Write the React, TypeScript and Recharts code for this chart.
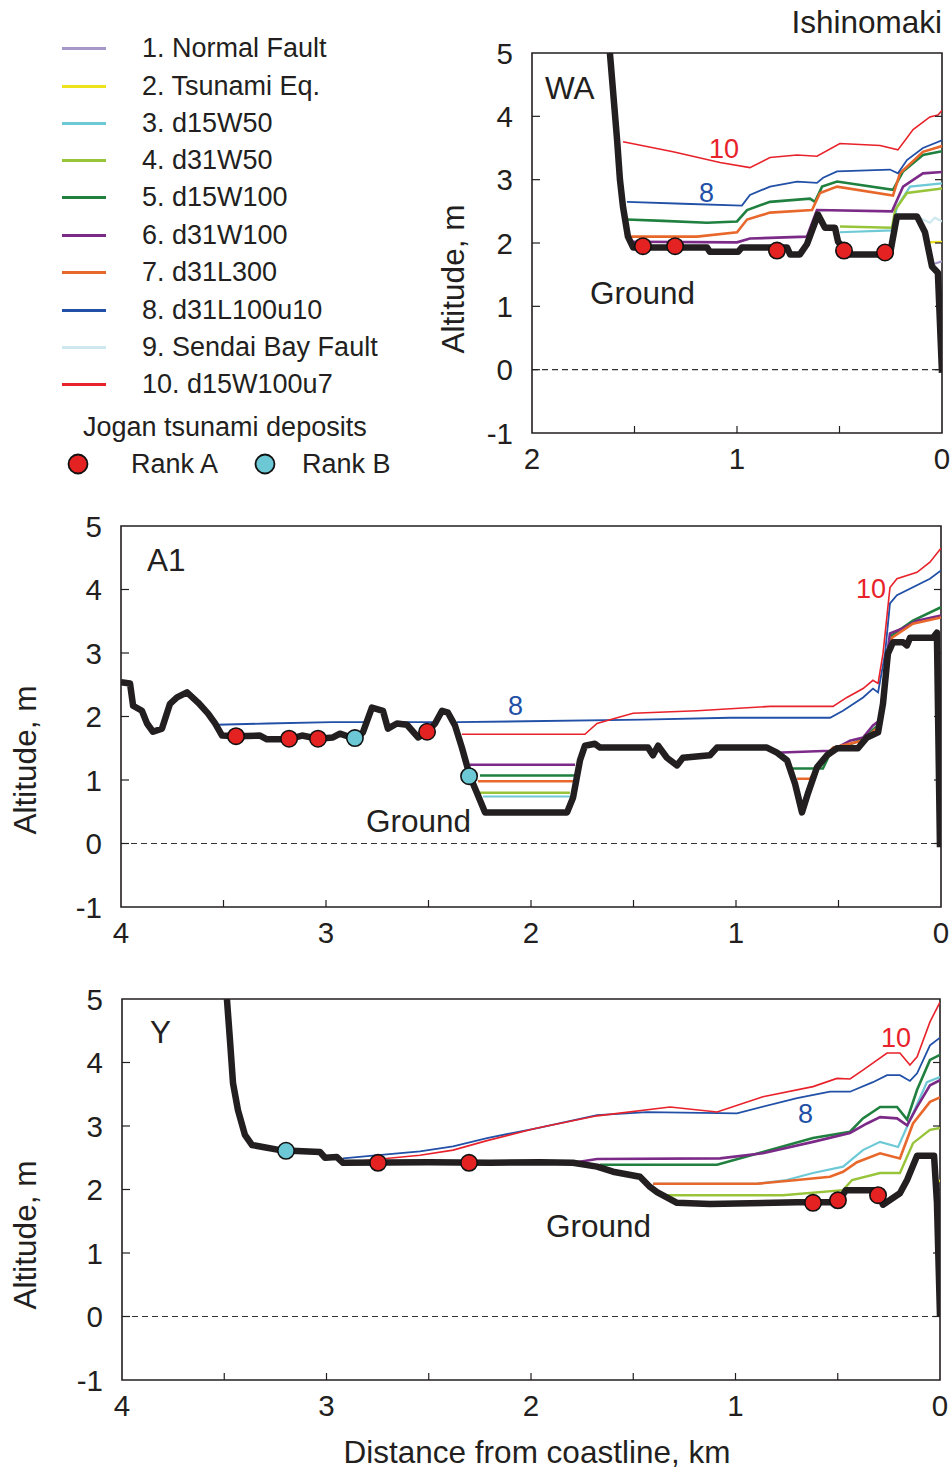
import React from 'react';
import { ComposedChart, Line, Scatter, XAxis, YAxis, ReferenceLine, ReferenceArea } from 'recharts';

type P = [number, number | null];

const FONT = '"Liberation Sans", Arial, Helvetica, sans-serif';
const INK = '#231f20';

// ---------- legend ----------
const seriesNames = [
  '1. Normal Fault', '2. Tsunami Eq.', '3. d15W50', '4. d31W50', '5. d15W100',
  '6. d31W100', '7. d31L300', '8. d31L100u10', '9. Sendai Bay Fault', '10. d15W100u7',
];
const seriesColors = [
  '#a597c8', '#ede31c', '#6dc9d6', '#98c43a', '#20803f',
  '#7b2a88', '#e8682c', '#2150a6', '#cde8ee', '#e8222a',
];
const seriesWidths = [2.2, 2.2, 2.2, 2.4, 2.6, 2.6, 2.6, 1.8, 2.2, 1.6];
const legendRowsY = [48, 86, 123, 160, 197, 235, 272, 310, 347, 384];
const RANK_A = '#e52222';
const RANK_B = '#6cc8d4';

// ---------- WA (Ishinomaki) ----------
const waGround: P[] = [
  [1.62, 5.0], [1.585, 3.63], [1.571, 3.0], [1.556, 2.57], [1.532, 2.1], [1.507, 1.93],
  [1.146, 1.93], [1.132, 1.86], [0.995, 1.86], [0.976, 1.93], [0.756, 1.93], [0.741, 1.82],
  [0.693, 1.82], [0.659, 1.98], [0.605, 2.45], [0.571, 2.24], [0.522, 2.24], [0.507, 2.02],
  [0.449, 1.82], [0.254, 1.82], [0.22, 2.42], [0.122, 2.42], [0.083, 2.17], [0.049, 1.63],
  [0.02, 1.53], [0.0, -0.05],
];
const waS1: P[] = [[0.049, 1.66], [0.0, 1.71]];
const waS2: P[] = [[0.073, 2.01], [0.0, 2.02]];
const waS3: P[] = [[0.498, 2.17], [0.244, 2.2], [0.22, 2.57], [0.156, 2.89], [0.0, 2.94]];
const waS4: P[] = [[0.498, 2.26], [0.244, 2.24], [0.229, 2.52], [0.171, 2.79], [0.0, 2.86]];
const waS5: P[] = [
  [1.537, 2.37], [1.361, 2.35], [1.146, 2.32], [1.0, 2.34], [0.951, 2.52], [0.839, 2.65],
  [0.644, 2.7], [0.62, 2.65], [0.585, 2.89], [0.512, 2.97], [0.239, 2.84], [0.19, 3.13],
  [0.093, 3.39], [0.0, 3.45],
];
const waS6: P[] = [
  [1.507, 2.02], [1.0, 2.01], [0.937, 2.07], [0.659, 2.1], [0.61, 2.52], [0.244, 2.5],
  [0.19, 2.89], [0.093, 3.1], [0.0, 3.12],
];
const waS7: P[] = [
  [1.537, 2.1], [1.195, 2.1], [1.0, 2.17], [0.951, 2.37], [0.839, 2.48], [0.634, 2.52],
  [0.595, 2.79], [0.512, 2.89], [0.239, 2.75], [0.205, 3.1], [0.093, 3.44], [0.0, 3.53],
];
const waS8: P[] = [
  [1.537, 2.65], [1.263, 2.62], [0.976, 2.59], [0.937, 2.76], [0.839, 2.89], [0.707, 2.97],
  [0.61, 2.95], [0.58, 3.03], [0.512, 3.13], [0.254, 3.16], [0.215, 3.1], [0.171, 3.31],
  [0.093, 3.5], [0.0, 3.62],
];
const waS9: P[] = [[0.122, 2.42], [0.059, 2.32], [0.035, 2.4], [0.0, 2.34]];
const waS10: P[] = [
  [1.556, 3.6], [1.312, 3.44], [1.083, 3.27], [0.937, 3.19], [0.839, 3.35], [0.707, 3.39],
  [0.61, 3.37], [0.498, 3.57], [0.302, 3.54], [0.215, 3.47], [0.141, 3.79], [0.059, 3.99],
  [0.02, 4.02], [0.0, 4.09],
];
const waRankA: P[] = [[1.459, 1.95], [1.302, 1.95], [0.805, 1.88], [0.478, 1.88], [0.278, 1.85]];
const waRankB: P[] = [];

// ---------- A1 ----------
const a1Ground: P[] = [
  [4.0, 2.54], [3.956, 2.52], [3.941, 2.17], [3.898, 2.09], [3.873, 1.89], [3.844, 1.76],
  [3.8, 1.81], [3.761, 2.2], [3.727, 2.3], [3.678, 2.38], [3.624, 2.22], [3.576, 2.05],
  [3.541, 1.89], [3.507, 1.7], [3.434, 1.69], [3.322, 1.7], [3.288, 1.64], [3.185, 1.64],
  [3.117, 1.7], [3.039, 1.65], [2.966, 1.67], [2.932, 1.73], [2.859, 1.65], [2.82, 1.75],
  [2.776, 2.14], [2.722, 2.09], [2.698, 1.81], [2.654, 1.89], [2.605, 1.87], [2.551, 1.67],
  [2.507, 1.76], [2.468, 1.89], [2.434, 2.09], [2.405, 2.06], [2.371, 1.86], [2.337, 1.51],
  [2.298, 1.06], [2.263, 0.79], [2.224, 0.49], [1.824, 0.49], [1.795, 0.72], [1.761, 1.31],
  [1.737, 1.54], [1.688, 1.57], [1.663, 1.51], [1.429, 1.51], [1.405, 1.39], [1.38, 1.54],
  [1.337, 1.35], [1.288, 1.23], [1.259, 1.35], [1.127, 1.39], [1.093, 1.51], [0.849, 1.51],
  [0.8, 1.43], [0.751, 1.31], [0.712, 0.94], [0.678, 0.49], [0.649, 0.79], [0.605, 1.2],
  [0.556, 1.39], [0.507, 1.5], [0.405, 1.5], [0.361, 1.67], [0.307, 1.75], [0.283, 2.2],
  [0.259, 2.99], [0.234, 3.17], [0.185, 3.17], [0.166, 3.12], [0.151, 3.24], [0.039, 3.24],
  [0.02, 3.32], [0.005, -0.06],
];
const a1S3: P[] = [[2.234, 0.74], [1.81, 0.74]];
const a1S4: P[] = [[2.263, 0.8], [1.81, 0.8]];
const a1S5: P[] = [
  [2.249, 1.07], [1.785, 1.07], [1.78, null], [0.722, 1.18], [0.576, 1.18], [0.541, 1.42],
  [0.38, 1.65], [0.298, 1.89], [0.263, 2.83], [0.239, 3.28], [0.137, 3.51], [0.0, 3.72],
];
const a1S6: P[] = [
  [2.298, 1.24], [1.785, 1.24], [1.78, null], [0.81, 1.43], [0.541, 1.46], [0.507, 1.51],
  [0.444, 1.62], [0.38, 1.67], [0.332, 1.86], [0.298, 1.94], [0.273, 2.72], [0.249, 3.31],
  [0.185, 3.39], [0.117, 3.51], [0.0, 3.59],
];
const a1S7: P[] = [
  [2.259, 0.98], [1.785, 0.98], [1.78, null], [0.702, 1.02], [0.639, 1.02], [0.576, 1.31],
  [0.527, 1.51], [0.38, 1.62], [0.298, 1.86], [0.263, 2.77], [0.239, 3.24], [0.137, 3.46],
  [0.0, 3.56],
];
const a1S8: P[] = [
  [3.532, 1.87], [3.288, 1.89], [2.971, 1.91], [2.795, 1.91], [2.79, null], [2.624, 1.91],
  [2.454, 1.91], [2.44, null], [2.361, 1.91], [1.454, 1.95], [1.029, 1.98], [0.541, 1.98],
  [0.478, 2.09], [0.38, 2.3], [0.332, 2.44], [0.307, 2.38], [0.273, 2.99], [0.249, 3.78],
  [0.215, 3.91], [0.054, 4.17], [0.0, 4.3],
];
const a1S10: P[] = [
  [3.015, 1.67], [2.946, 1.67], [2.94, null], [2.337, 1.72], [1.737, 1.72], [1.678, 1.89],
  [1.615, 1.95], [1.502, 2.05], [1.19, 2.09], [0.834, 2.16], [0.527, 2.16], [0.459, 2.3],
  [0.38, 2.44], [0.332, 2.57], [0.307, 2.52], [0.283, 2.99], [0.249, 4.03], [0.215, 4.17],
  [0.117, 4.27], [0.054, 4.43], [0.0, 4.65],
];
const a1RankA: P[] = [[3.439, 1.69], [3.18, 1.65], [3.039, 1.65], [2.507, 1.76]];
const a1RankB: P[] = [[2.859, 1.66], [2.302, 1.06]];

// ---------- Y ----------
const yGround: P[] = [
  [3.487, 5.0], [3.472, 4.35], [3.457, 3.67], [3.433, 3.25], [3.399, 2.86], [3.364, 2.7],
  [3.311, 2.67], [3.227, 2.62], [3.032, 2.59], [3.007, 2.5], [2.949, 2.51], [2.919, 2.42],
  [2.5, 2.43], [2.2, 2.42], [1.956, 2.43], [1.795, 2.42], [1.677, 2.36], [1.599, 2.28],
  [1.467, 2.2], [1.418, 2.04], [1.384, 1.96], [1.286, 1.79], [1.125, 1.77], [0.699, 1.8],
  [0.499, 1.8], [0.46, 1.99], [0.31, 1.99], [0.279, 1.76], [0.196, 1.94], [0.161, 2.15],
  [0.112, 2.53], [0.029, 2.53], [0.015, 1.8], [0.0, 0.0],
];
const yS1: P[] = [[0.015, 1.8], [0.0, 1.87]];
const yS2: P[] = [[0.015, 2.1], [0.0, 2.15]];
const yS3: P[] = [
  [1.403, 2.09], [0.895, 2.09], [0.75, 2.15], [0.621, 2.26], [0.474, 2.36], [0.377, 2.62],
  [0.293, 2.75], [0.205, 2.67], [0.147, 3.09], [0.064, 3.69], [0.0, 3.77],
];
const yS4: P[] = [
  [1.335, 1.91], [0.768, 1.91], [0.474, 1.99], [0.43, 2.15], [0.293, 2.26], [0.196, 2.26],
  [0.132, 2.73], [0.049, 2.94], [0.0, 2.97],
];
const yS5: P[] = [
  [1.663, 2.39], [1.09, 2.39], [0.866, 2.59], [0.621, 2.81], [0.44, 2.91], [0.377, 3.12],
  [0.293, 3.3], [0.21, 3.3], [0.161, 3.1], [0.112, 3.57], [0.049, 4.04], [0.0, 4.12],
];
const yS6: P[] = [
  [1.795, 2.42], [1.677, 2.48], [1.076, 2.49], [0.866, 2.57], [0.621, 2.75], [0.44, 2.89],
  [0.357, 3.04], [0.293, 3.14], [0.21, 3.12], [0.161, 3.01], [0.112, 3.3], [0.049, 3.64],
  [0.0, 3.72],
];
const yS7: P[] = [
  [1.403, 2.09], [0.895, 2.09], [0.699, 2.15], [0.538, 2.2], [0.474, 2.28], [0.406, 2.43],
  [0.293, 2.57], [0.196, 2.49], [0.132, 3.04], [0.049, 3.38], [0.0, 3.45],
];
const yS8: P[] = [
  [2.919, 2.49], [2.787, 2.53], [2.543, 2.6], [2.381, 2.68], [2.215, 2.81], [1.98, 2.96],
  [1.677, 3.17], [1.433, 3.22], [0.993, 3.2], [0.699, 3.44], [0.538, 3.54], [0.44, 3.54],
  [0.328, 3.69], [0.259, 3.8], [0.196, 3.8], [0.147, 3.71], [0.112, 3.83], [0.049, 4.27],
  [0.0, 4.39],
];
const yS10: P[] = [
  [2.836, 2.45], [2.543, 2.54], [2.381, 2.62], [2.215, 2.77], [1.98, 2.96], [1.677, 3.16],
  [1.32, 3.3], [1.09, 3.22], [0.866, 3.46], [0.621, 3.62], [0.504, 3.75], [0.44, 3.74],
  [0.377, 3.88], [0.259, 4.15], [0.196, 4.15], [0.147, 3.96], [0.112, 4.09], [0.049, 4.64],
  [0.0, 4.95],
];
const yRankA: P[] = [[2.748, 2.42], [2.303, 2.42], [0.621, 1.79], [0.499, 1.83], [0.303, 1.91]];
const yRankB: P[] = [[3.198, 2.61]];

const yTicks = [-1, 0, 1, 2, 3, 4, 5];

const toData = (a: P[]) => a.map(([x, y]) => ({ x, y }));

type SeriesSet = (P[] | null)[]; // index 0..9 -> series 1..10

interface PanelCfg {
  id: string;
  left: number; top: number; width: number; height: number;
  marginTop: number; marginRight: number; yAxisWidth: number; xAxisHeight: number;
  xMax: number;
  series: SeriesSet;
  ground: P[];
  rankA: P[];
  rankB: P[];
}

const panels: PanelCfg[] = [
  {
    id: 'WA', left: 440, top: 0, width: 511, height: 480,
    marginTop: 53, marginRight: 9, yAxisWidth: 92, xAxisHeight: 47, xMax: 2,
    series: [waS1, waS2, waS3, waS4, waS5, waS6, waS7, waS8, waS9, waS10],
    ground: waGround, rankA: waRankA, rankB: waRankB,
  },
  {
    id: 'A1', left: 0, top: 480, width: 951, height: 480,
    marginTop: 46, marginRight: 10, yAxisWidth: 121, xAxisHeight: 53, xMax: 4,
    series: [null, null, a1S3, a1S4, a1S5, a1S6, a1S7, a1S8, null, a1S10],
    ground: a1Ground, rankA: a1RankA, rankB: a1RankB,
  },
  {
    id: 'Y', left: 0, top: 960, width: 951, height: 480,
    marginTop: 39, marginRight: 11, yAxisWidth: 122, xAxisHeight: 60, xMax: 4,
    series: [yS1, yS2, yS3, yS4, yS5, yS6, yS7, yS8, null, yS10],
    ground: yGround, rankA: yRankA, rankB: yRankB,
  },
];

// draw order of the scenario lines (index into series arrays)
const drawOrder = [0, 1, 8, 2, 3, 4, 5, 6, 7, 9];

function makeDot(fill: string) {
  return (props: any) => {
    const { cx, cy } = props;
    if (cx == null || cy == null) return <g />;
    return <circle cx={cx} cy={cy} r={8.2} fill={fill} stroke="#111" strokeWidth={1.6} />;
  };
}

function ProfileChart({ cfg }: { cfg: PanelCfg }) {
  const plotLeft = cfg.yAxisWidth;
  const plotRight = cfg.width - cfg.marginRight;
  const plotBottom = cfg.height - cfg.xAxisHeight;
  const xTicks: number[] = [];
  for (let i = 0; i <= cfg.xMax * 2; i++) xTicks.push(i / 2);

  const XTick = (props: any) => {
    const { x, payload } = props;
    const v = payload.value as number;
    const isInt = Math.abs(v - Math.round(v)) < 1e-6;
    const edge = v === 0 || v === cfg.xMax;
    return (
      <g>
        {!edge && <line x1={x} x2={x} y1={plotBottom} y2={plotBottom - 7} stroke={INK} strokeWidth={1.2} />}
        {isInt && (
          <text x={x} y={plotBottom + 25} textAnchor="middle" dominantBaseline="central"
            fontSize={29.5} fontFamily={FONT} fill={INK}>{v}</text>
        )}
      </g>
    );
  };
  const YTick = (props: any) => {
    const { y, payload } = props;
    const v = payload.value as number;
    const edge = v === -1 || v === 5;
    return (
      <g>
        {!edge && <line x1={plotLeft} x2={plotLeft + 8} y1={y} y2={y} stroke={INK} strokeWidth={1.2} />}
        {!edge && <line x1={plotRight} x2={plotRight - 7} y1={y} y2={y} stroke={INK} strokeWidth={1.2} />}
        <text x={plotLeft - 19} y={y} textAnchor="end" dominantBaseline="central"
          fontSize={29.5} fontFamily={FONT} fill={INK}>{v}</text>
      </g>
    );
  };

  return (
    <div style={{ position: 'absolute', left: cfg.left, top: cfg.top }}>
      <ComposedChart width={cfg.width} height={cfg.height}
        margin={{ top: cfg.marginTop, right: cfg.marginRight, bottom: 0, left: 0 }}>
        <XAxis dataKey="x" type="number" domain={[0, cfg.xMax]} reversed allowDataOverflow
          ticks={xTicks} interval={0} tick={<XTick />} tickLine={false} axisLine={false}
          height={cfg.xAxisHeight} />
        <YAxis dataKey="y" type="number" domain={[-1, 5]} allowDataOverflow ticks={yTicks}
          interval={0} tick={<YTick />} tickLine={false} axisLine={false} width={cfg.yAxisWidth} />
        <ReferenceLine y={0} stroke="#333" strokeWidth={1.1} strokeDasharray="6 4" />
        {drawOrder.map((i) => {
          const s = cfg.series[i];
          if (!s) return null;
          return (
            <Line key={`${cfg.id}-s${i + 1}`} data={toData(s)} dataKey="y" type="linear"
              stroke={seriesColors[i]} strokeWidth={seriesWidths[i]} dot={false}
              activeDot={false} isAnimationActive={false} connectNulls={false} />
          );
        })}
        <Line key={`${cfg.id}-ground`} data={toData(cfg.ground)} dataKey="y" type="linear"
          stroke={INK} strokeWidth={6.5} strokeLinejoin="round" dot={false} activeDot={false}
          isAnimationActive={false} />
        {cfg.rankA.length > 0 && (
          <Scatter data={toData(cfg.rankA)} dataKey="y" shape={makeDot(RANK_A)} isAnimationActive={false} />
        )}
        {cfg.rankB.length > 0 && (
          <Scatter data={toData(cfg.rankB)} dataKey="y" shape={makeDot(RANK_B)} isAnimationActive={false} />
        )}
        <ReferenceArea x1={cfg.xMax} x2={0} y1={-1} y2={5} fill="none" fillOpacity={0}
          stroke={INK} strokeWidth={1.6} />
      </ComposedChart>
    </div>
  );
}

function Txt({ x, cy, size, color = INK, children, anchor = 'left' }: any) {
  const style: React.CSSProperties = {
    position: 'absolute', top: cy - size * 0.49, fontSize: size, lineHeight: `${size}px`,
    color, whiteSpace: 'nowrap', fontFamily: FONT,
  };
  if (anchor === 'left') style.left = x;
  else if (anchor === 'center') { style.left = x; style.transform = 'translateX(-50%)'; }
  else { style.right = 951 - x; }
  return <div style={style}>{children}</div>;
}

function VTitle({ cx, cy }: { cx: number; cy: number }) {
  return (
    <div style={{
      position: 'absolute', left: cx, top: cy, fontSize: 31.5, lineHeight: '31.5px',
      whiteSpace: 'nowrap', color: INK, fontFamily: FONT,
      transform: 'translate(-50%, -50%) rotate(-90deg)',
    }}>Altitude, m</div>
  );
}

export default function App() {
  return (
    <div style={{ position: 'relative', width: 951, height: 1474, overflow: 'hidden', background: '#fff', fontFamily: FONT, color: INK }}>
      <style>{'body{margin:0;background:#fff;}'}</style>
      {panels.map((p) => <ProfileChart key={p.id} cfg={p} />)}

      {/* legend */}
      {seriesNames.map((name, i) => (
        <React.Fragment key={name}>
          <div style={{ position: 'absolute', left: 62, top: legendRowsY[i] - 1.5, width: 44, height: 3, background: seriesColors[i] }} />
          <Txt x={142} cy={legendRowsY[i]} size={27}>{name}</Txt>
        </React.Fragment>
      ))}
      <Txt x={83} cy={427} size={27}>Jogan tsunami deposits</Txt>
      <svg style={{ position: 'absolute', left: 0, top: 440 }} width={300} height={50}>
        <circle cx={78} cy={24} r={9.5} fill={RANK_A} stroke="#111" strokeWidth={1.8} />
        <circle cx={265} cy={24} r={9.5} fill={RANK_B} stroke="#111" strokeWidth={1.8} />
      </svg>
      <Txt x={131} cy={464} size={27}>Rank A</Txt>
      <Txt x={302} cy={464} size={27}>Rank B</Txt>

      {/* titles and annotations */}
      <Txt x={942} cy={22} size={31.5} anchor="right">Ishinomaki</Txt>
      <Txt x={545} cy={88} size={31.5}>WA</Txt>
      <Txt x={590} cy={293} size={31.5}>Ground</Txt>
      <Txt x={709} cy={149} size={27} color="#e8222a">10</Txt>
      <Txt x={699} cy={193} size={27} color="#2150a6">8</Txt>

      <Txt x={147} cy={560} size={31.5}>A1</Txt>
      <Txt x={366} cy={821} size={31.5}>Ground</Txt>
      <Txt x={508} cy={706} size={27} color="#2150a6">8</Txt>
      <Txt x={856} cy={589} size={27} color="#e8222a">10</Txt>

      <Txt x={150} cy={1032} size={31.5}>Y</Txt>
      <Txt x={546} cy={1226} size={31.5}>Ground</Txt>
      <Txt x={798} cy={1114} size={27} color="#2150a6">8</Txt>
      <Txt x={881} cy={1038} size={27} color="#e8222a">10</Txt>

      <VTitle cx={454} cy={279} />
      <VTitle cx={26} cy={760} />
      <VTitle cx={26} cy={1235} />
      <Txt x={537} cy={1452} size={31.5} anchor="center">Distance from coastline, km</Txt>
    </div>
  );
}
